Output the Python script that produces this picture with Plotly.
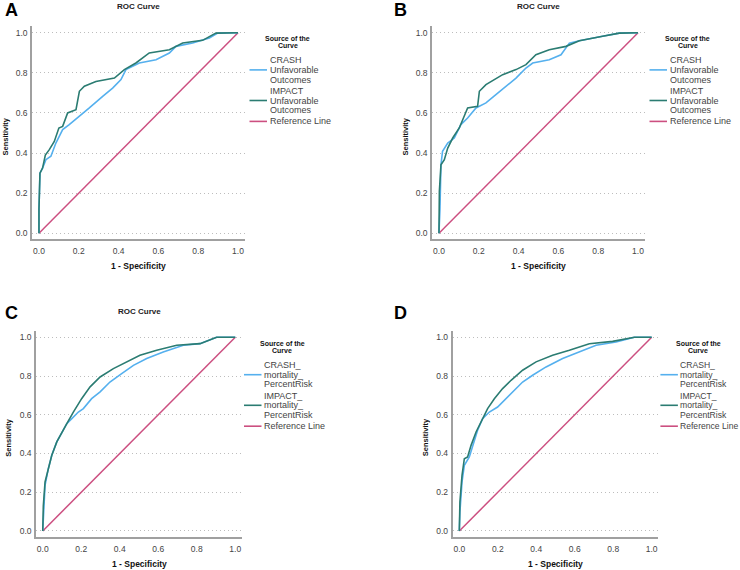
import plotly.graph_objects as go

# ---------------- data ----------------
a_crash_fpr = [0, 0.0, 0.005, 0.018, 0.035, 0.06, 0.085, 0.119, 0.152, 0.194, 0.253, 0.32, 0.37, 0.412, 0.437, 0.504, 0.588, 0.655, 0.688, 0.772, 0.856, 0.898, 1.0]
a_crash_tpr = [0, 0.12, 0.30, 0.325, 0.367, 0.384, 0.45, 0.517, 0.542, 0.575, 0.625, 0.683, 0.724, 0.766, 0.816, 0.849, 0.865, 0.899, 0.932, 0.949, 0.973, 0.998, 1.0]
a_impact_fpr = [0, 0.0, 0.005, 0.018, 0.032, 0.052, 0.077, 0.10, 0.119, 0.144, 0.186, 0.203, 0.228, 0.286, 0.379, 0.429, 0.487, 0.554, 0.655, 0.722, 0.822, 0.889, 1.0]
a_impact_tpr = [0, 0.12, 0.30, 0.325, 0.39, 0.417, 0.458, 0.525, 0.533, 0.60, 0.616, 0.708, 0.733, 0.757, 0.774, 0.816, 0.849, 0.899, 0.915, 0.949, 0.962, 0.998, 1.0]

b_crash_fpr = [0, 0.005, 0.01, 0.018, 0.044, 0.077, 0.11, 0.144, 0.186, 0.236, 0.286, 0.345, 0.387, 0.437, 0.471, 0.554, 0.613, 0.655, 0.705, 0.822, 0.906, 1.0]
b_crash_tpr = [0, 0.12, 0.342, 0.409, 0.45, 0.475, 0.542, 0.575, 0.625, 0.65, 0.691, 0.741, 0.774, 0.824, 0.849, 0.865, 0.89, 0.948, 0.96, 0.982, 0.998, 1.0]
b_impact_fpr = [0, 0.002, 0.01, 0.027, 0.044, 0.069, 0.102, 0.127, 0.144, 0.194, 0.203, 0.236, 0.32, 0.387, 0.437, 0.487, 0.554, 0.638, 0.705, 0.822, 0.906, 1.0]
b_impact_tpr = [0, 0.21, 0.342, 0.367, 0.425, 0.475, 0.525, 0.583, 0.625, 0.633, 0.708, 0.741, 0.791, 0.816, 0.841, 0.89, 0.915, 0.932, 0.96, 0.982, 0.998, 1.0]

c_crash_fpr = [0, 0.007, 0.012, 0.029, 0.047, 0.073, 0.099, 0.125, 0.151, 0.185, 0.211, 0.254, 0.298, 0.349, 0.41, 0.471, 0.54, 0.626, 0.73, 0.817, 0.903, 1.0]
c_crash_tpr = [0, 0.115, 0.236, 0.322, 0.391, 0.46, 0.511, 0.554, 0.58, 0.614, 0.632, 0.683, 0.718, 0.769, 0.812, 0.855, 0.89, 0.924, 0.959, 0.967, 1.0, 1.0]
c_impact_fpr = [0, 0.003, 0.012, 0.029, 0.047, 0.073, 0.099, 0.125, 0.159, 0.202, 0.246, 0.298, 0.367, 0.436, 0.505, 0.592, 0.696, 0.817, 0.903, 1.0]
c_impact_tpr = [0, 0.13, 0.253, 0.322, 0.391, 0.46, 0.511, 0.554, 0.614, 0.683, 0.744, 0.795, 0.838, 0.873, 0.907, 0.933, 0.959, 0.967, 1.0, 1.0]

d_crash_fpr = [0, 0.003, 0.014, 0.026, 0.052, 0.069, 0.095, 0.121, 0.156, 0.199, 0.243, 0.286, 0.329, 0.381, 0.451, 0.537, 0.624, 0.711, 0.815, 0.91, 1.0]
d_crash_tpr = [0, 0.098, 0.253, 0.339, 0.382, 0.442, 0.52, 0.58, 0.614, 0.64, 0.683, 0.726, 0.769, 0.804, 0.847, 0.89, 0.924, 0.959, 0.976, 1.0, 1.0]
d_impact_fpr = [0, 0.003, 0.014, 0.026, 0.043, 0.061, 0.087, 0.113, 0.147, 0.182, 0.225, 0.269, 0.329, 0.399, 0.485, 0.572, 0.676, 0.797, 0.91, 1.0]
d_impact_tpr = [0, 0.15, 0.287, 0.373, 0.382, 0.442, 0.511, 0.563, 0.632, 0.683, 0.735, 0.778, 0.83, 0.873, 0.907, 0.933, 0.967, 0.979, 1.0, 1.0]

ref_x = [0, 1]
ref_y = [0, 1]

tick_vals = [0.0, 0.2, 0.4, 0.6, 0.8, 1.0]
tick_text = ["0.0", "0.2", "0.4", "0.6", "0.8", "1.0"]

panel_letters = ["A", "B", "C", "D"]
panel_titles = ["ROC Curve", "ROC Curve", "ROC Curve", ""]
legend_title = ["Source of the", "Curve"]
legend_unfav = [["CRASH", "Unfavorable", "Outcomes"], ["IMPACT", "Unfavorable", "Outcomes"], ["Reference Line"]]
legend_mort = [["CRASH_", "mortality_", "PercentRisk"], ["IMPACT_", "mortality_", "PercentRisk"], ["Reference Line"]]
x_title = "1 - Specificity"
y_title = "Sensitivity"

# ---------------- styling ----------------
W, H = 740, 570
CRASH_C = "#55b0ee"
IMPACT_C = "#2b7c72"
REF_C = "#cc4f80"
AX_C = "#a0a0a0"
GRID_C = "#bdbdbd"
FONT = "Arial, Liberation Sans, sans-serif"

def px(x):
    return x / W

def py(y):
    return 1 - y / H

XR = [-0.035, 1.035]
YR = [-0.03, 1.035]

# panel geometry in pixels: (left, right, top, bottom)
panels = [
    (32.0, 245.0, 25.7, 239.3),
    (432.0, 645.0, 25.7, 239.3),
    (36.0, 242.0, 330.5, 536.8),
    (452.6, 658.4, 330.5, 536.8),
]

data = [
    (a_crash_fpr, a_crash_tpr, a_impact_fpr, a_impact_tpr),
    (b_crash_fpr, b_crash_tpr, b_impact_fpr, b_impact_tpr),
    (c_crash_fpr, c_crash_tpr, c_impact_fpr, c_impact_tpr),
    (d_crash_fpr, d_crash_tpr, d_impact_fpr, d_impact_tpr),
]

fig = go.Figure()
annotations = []
shapes = []

for i, ((l, r, t, b), (cx, cy, ix, iy)) in enumerate(zip(panels, data)):
    n = "" if i == 0 else str(i + 1)
    xa, ya = "x" + n, "y" + n
    fig.add_trace(go.Scatter(x=ref_x, y=ref_y, mode="lines", line=dict(color=REF_C, width=1.5),
                             xaxis=xa, yaxis=ya, showlegend=False, name="Reference Line"))
    fig.add_trace(go.Scatter(x=cx, y=cy, mode="lines", line=dict(color=CRASH_C, width=1.6),
                             xaxis=xa, yaxis=ya, showlegend=False, name="CRASH"))
    fig.add_trace(go.Scatter(x=ix, y=iy, mode="lines", line=dict(color=IMPACT_C, width=1.6),
                             xaxis=xa, yaxis=ya, showlegend=False, name="IMPACT"))
    axcommon = dict(showline=True, linecolor=AX_C, linewidth=1.6, ticks="", mirror=False,
                    zeroline=False, tickvals=tick_vals, ticktext=tick_text,
                    tickfont=dict(family=FONT, size=8.5, color="#444444"), fixedrange=True)
    fig.layout["xaxis" + n] = dict(domain=[px(l), px(r)], range=XR, showgrid=False,
                                   anchor=ya, ticklabelstandoff=3, **axcommon)
    fig.layout["yaxis" + n] = dict(domain=[py(b), py(t)], range=YR, showgrid=True,
                                   gridcolor=GRID_C, griddash="1.3px,2.7px", gridwidth=1.3,
                                   anchor=xa, ticklabelstandoff=1, **axcommon)

    cxp = (l + r) / 2
    # panel letter
    letter_x = 3 if i % 2 == 0 else 392
    letter_y = 10 if i < 2 else 313
    annotations.append(dict(text="<b>%s</b>" % panel_letters[i], x=px(letter_x), y=py(letter_y),
                            xref="paper", yref="paper", xanchor="left", yanchor="middle",
                            showarrow=False, font=dict(family=FONT, size=18, color="#000")))
    if panel_titles[i]:
        annotations.append(dict(text="<b>%s</b>" % panel_titles[i], x=px(cxp), y=py(t - 19.5),
                                xref="paper", yref="paper", xanchor="center", yanchor="middle",
                                showarrow=False, font=dict(family=FONT, size=8, color="#222")))
    # axis titles
    annotations.append(dict(text="<b>%s</b>" % x_title, x=px(cxp), y=py(b + 27),
                            xref="paper", yref="paper", xanchor="center", yanchor="middle",
                            showarrow=False, font=dict(family=FONT, size=8.5, color="#111")))
    annotations.append(dict(text="<b>%s</b>" % y_title, x=px(l - 27), y=py((t + b) / 2 + 4),
                            xref="paper", yref="paper", xanchor="center", yanchor="middle",
                            textangle=-90, showarrow=False,
                            font=dict(family=FONT, size=7.5, color="#111")))

    # legend (manual)
    items = legend_unfav if i < 2 else legend_mort
    text_left = r + 22.5 if i < 2 else r + 20
    title_cx = text_left + 20
    lt = t + 12.5
    annotations.append(dict(text="<b>%s</b>" % legend_title[0], x=px(title_cx), y=py(lt),
                            xref="paper", yref="paper", xanchor="center", yanchor="middle",
                            showarrow=False, font=dict(family=FONT, size=7, color="#111")))
    annotations.append(dict(text="<b>%s</b>" % legend_title[1], x=px(title_cx), y=py(lt + 7.5),
                            xref="paper", yref="paper", xanchor="center", yanchor="middle",
                            showarrow=False, font=dict(family=FONT, size=7, color="#111")))
    line_y = lt + 22
    colors = [CRASH_C, IMPACT_C, REF_C]
    fsize = 9 if i < 3 else 8.6
    for k, lines in enumerate(items):
        for j, s in enumerate(lines):
            annotations.append(dict(text=s, x=px(text_left), y=py(line_y + 9.7 * j),
                                    xref="paper", yref="paper", xanchor="left", yanchor="middle",
                                    showarrow=False, font=dict(family=FONT, size=fsize, color="#444")))
        mid = line_y + 9.7 * (len(lines) - 1) / 2
        shapes.append(dict(type="line", xref="paper", yref="paper",
                           x0=px(text_left - 18), x1=px(text_left - 0.5), y0=py(mid), y1=py(mid),
                           line=dict(color=colors[k], width=1.6)))
        line_y += 9.7 * len(lines) + 1.5

fig.update_layout(width=W, height=H, margin=dict(l=0, r=0, t=0, b=0),
                  paper_bgcolor="white", plot_bgcolor="white", showlegend=False,
                  annotations=annotations, shapes=shapes, font=dict(family=FONT))

fig.write_html("out.html", config={"displayModeBar": False},
               post_script="document.body.style.margin='0';document.body.style.overflow='hidden';")
